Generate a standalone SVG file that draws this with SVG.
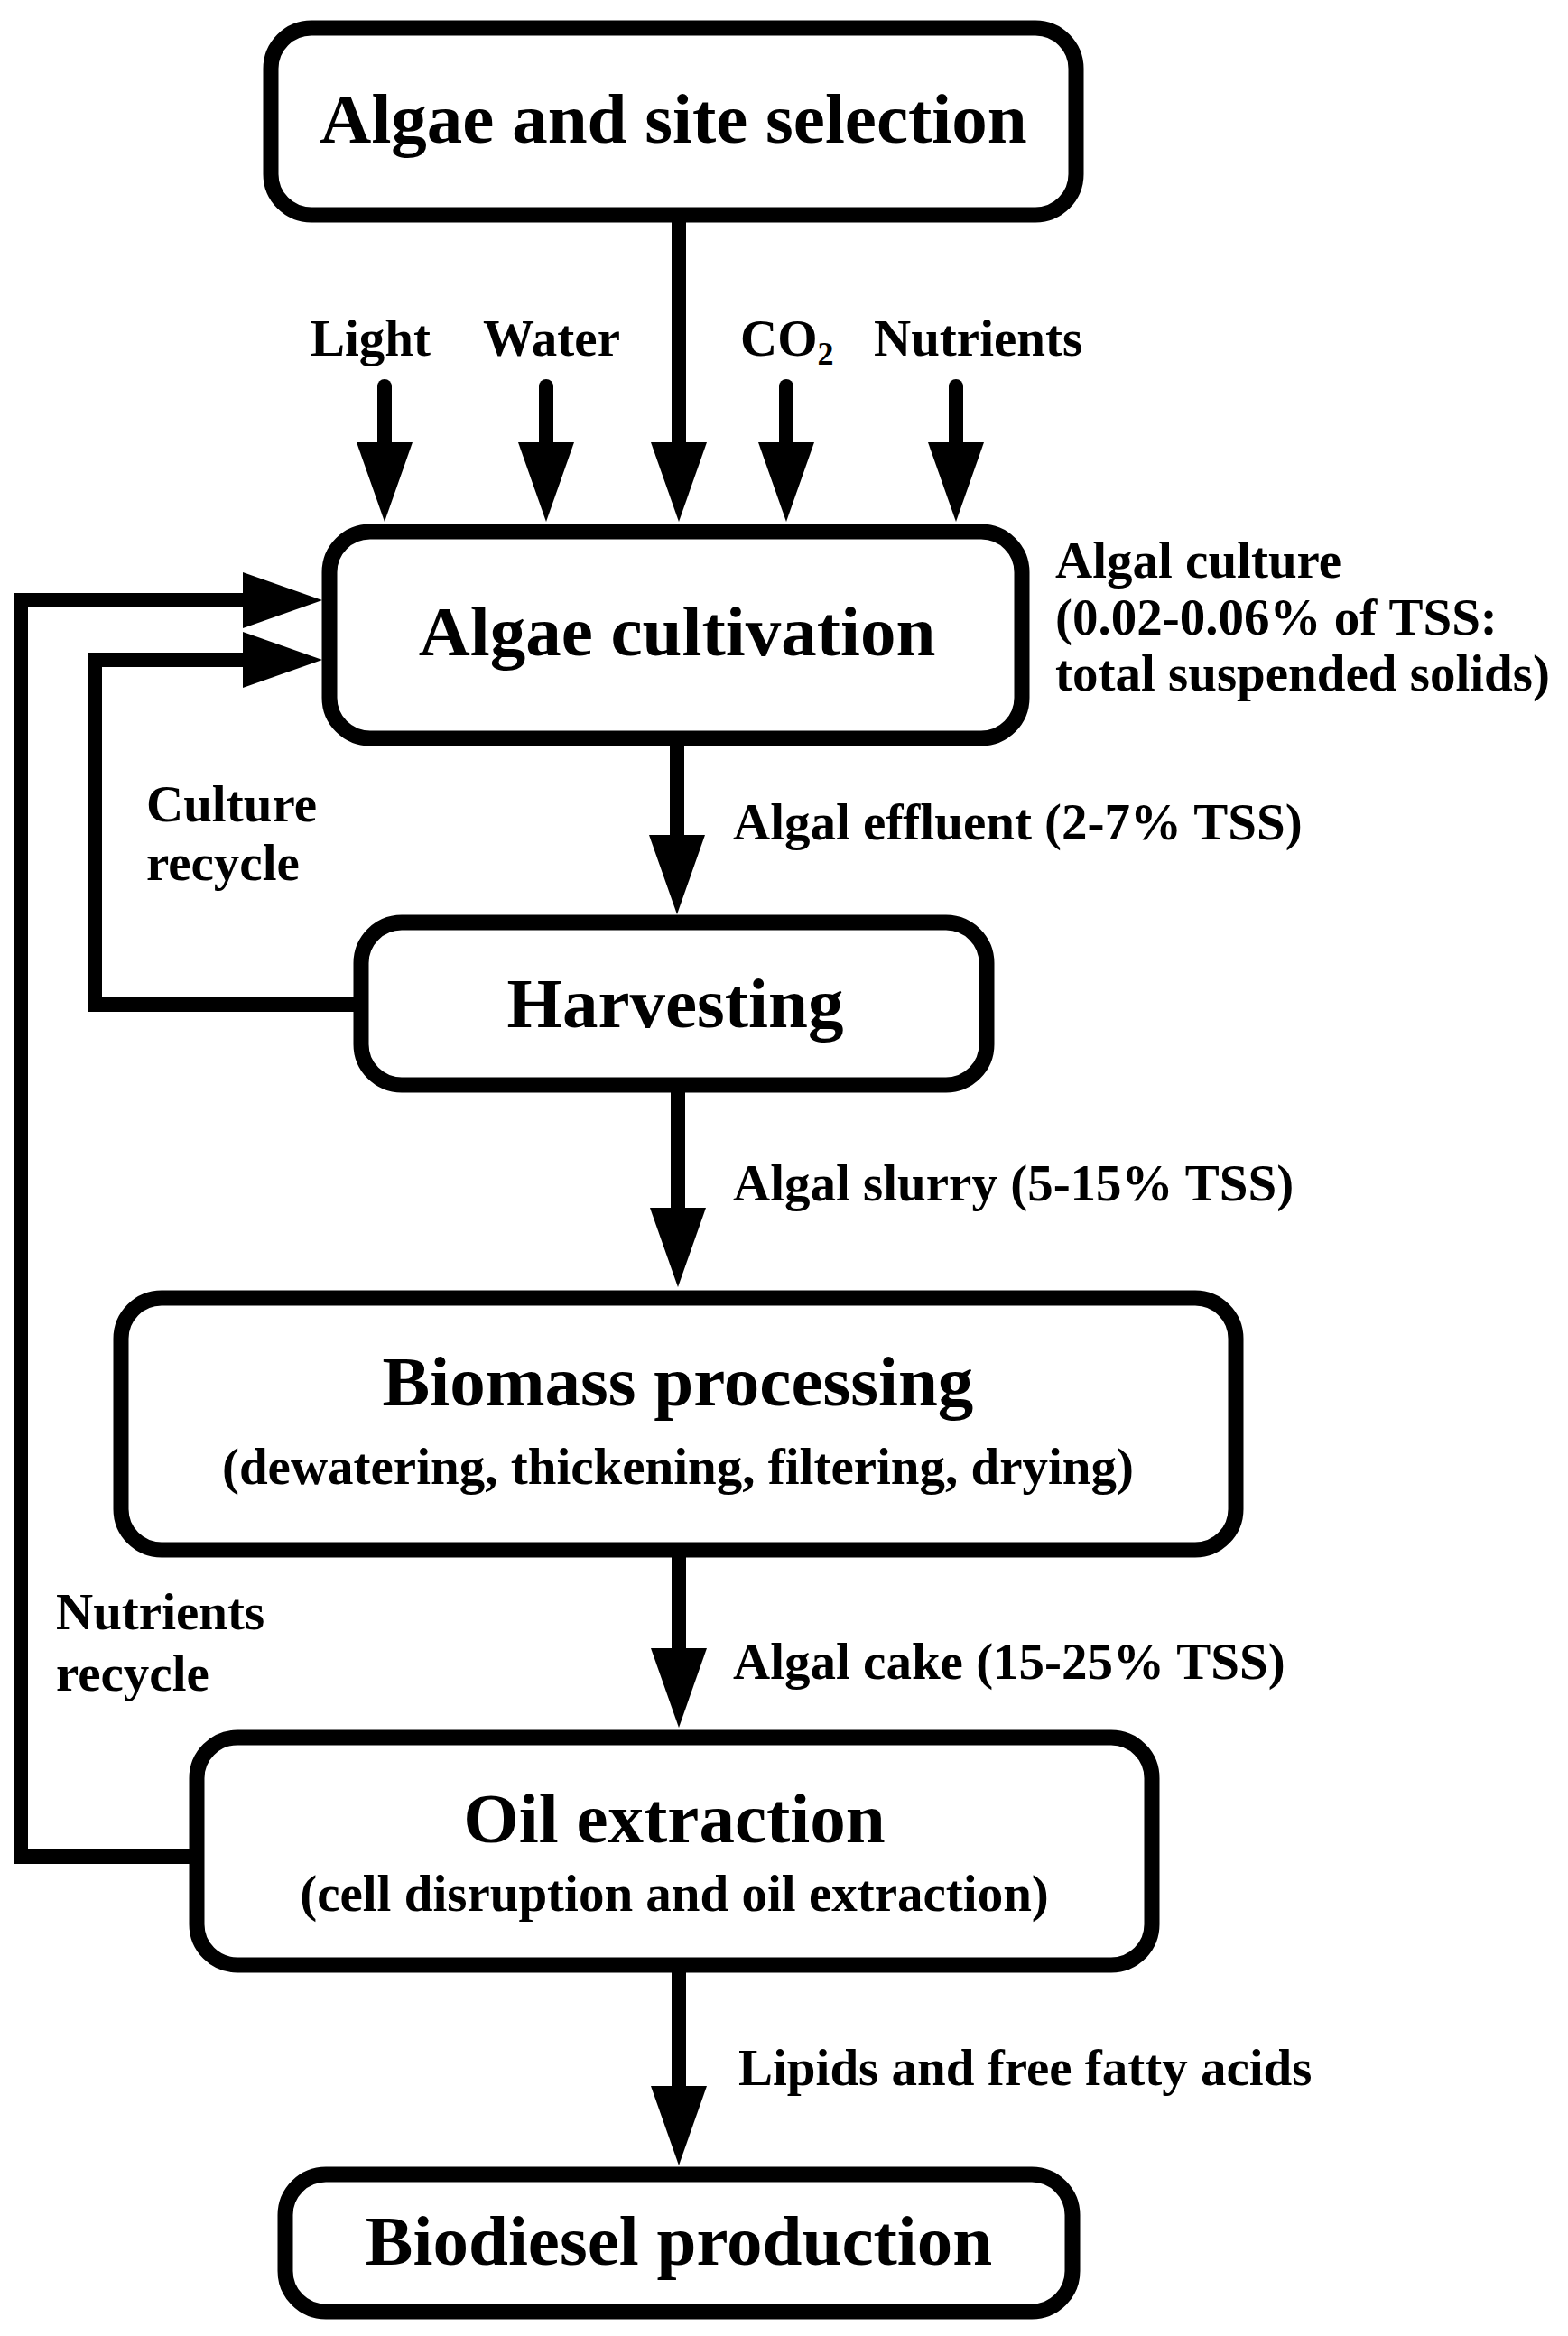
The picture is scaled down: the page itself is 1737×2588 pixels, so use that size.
<svg xmlns="http://www.w3.org/2000/svg" width="1737" height="2588" viewBox="0 0 1737 2588">
<style>
.box{fill:#fff;stroke:#000;stroke-width:17}
.t{font-family:"Liberation Serif","Times New Roman",serif;font-weight:bold;fill:#000}
.title{font-size:79px;text-anchor:middle}
.sub{font-size:57px;text-anchor:middle}
.lbl{font-size:57px}
.ln{stroke:#000;stroke-width:16;fill:none;stroke-linejoin:miter}
.in{stroke:#000;stroke-width:16;fill:none;stroke-linecap:round}
</style>
<defs>
<marker id="ah" markerUnits="userSpaceOnUse" markerWidth="90" markerHeight="64" refX="48" refY="31" orient="auto">
<path d="M0,0 L88,31 L0,62 z" fill="#000"/>
</marker>
</defs>
<rect width="1737" height="2588" fill="#fff"/>
<g id="connectors">
<line class="in" x1="426" y1="428" x2="426" y2="538" marker-end="url(#ah)"/>
<line class="in" x1="605" y1="428" x2="605" y2="538" marker-end="url(#ah)"/>
<line class="ln" x1="752" y1="240" x2="752" y2="538" marker-end="url(#ah)"/>
<line class="in" x1="871" y1="428" x2="871" y2="538" marker-end="url(#ah)"/>
<line class="in" x1="1059" y1="428" x2="1059" y2="538" marker-end="url(#ah)"/>
<line class="ln" x1="750" y1="820" x2="750" y2="973" marker-end="url(#ah)"/>
<line class="ln" x1="751" y1="1205" x2="751" y2="1386" marker-end="url(#ah)"/>
<line class="ln" x1="752" y1="1720" x2="752" y2="1874" marker-end="url(#ah)"/>
<line class="ln" x1="752" y1="2180" x2="752" y2="2359" marker-end="url(#ah)"/>
<polyline class="ln" points="218,2057 23,2057 23,665 317,665" marker-end="url(#ah)"/>
<polyline class="ln" points="400,1113 105,1113 105,731 317,731" marker-end="url(#ah)"/>
</g>
<g id="n-site">
<rect class="box" x="300" y="31" width="892" height="207" rx="45"/>
<text class="t title" x="746" y="158">Algae and site selection</text>
</g>
<g id="inputs">
<text class="t lbl" x="344" y="394">Light</text>
<text class="t lbl" x="535" y="394">Water</text>
<text class="t lbl" x="820" y="394">CO<tspan font-size="36" dy="10">2</tspan></text>
<text class="t lbl" x="968" y="394">Nutrients</text>
</g>
<g id="n-cultivation">
<rect class="box" x="365" y="589" width="767" height="229" rx="45"/>
<text class="t title" x="750" y="726">Algae cultivation</text>
</g>
<g id="l-culture">
<text class="t lbl" x="1169" y="640">Algal culture</text>
<text class="t lbl" x="1169" y="703">(0.02-0.06% of TSS:</text>
<text class="t lbl" x="1169" y="765">total suspended solids)</text>
</g>
<g id="n-harvesting">
<rect class="box" x="400" y="1022" width="693" height="180" rx="45"/>
<text class="t title" x="748" y="1138">Harvesting</text>
</g>
<g id="n-biomass">
<rect class="box" x="134" y="1438" width="1235" height="279" rx="45"/>
<text class="t title" x="751" y="1557">Biomass processing</text>
<text class="t sub" x="751" y="1644">(dewatering, thickening, filtering, drying)</text>
</g>
<g id="n-oil">
<rect class="box" x="218" y="1925" width="1058" height="252" rx="45"/>
<text class="t title" x="747" y="2041">Oil extraction</text>
<text class="t sub" x="747" y="2117">(cell disruption and oil extraction)</text>
</g>
<g id="n-biodiesel">
<rect class="box" x="316" y="2409" width="872" height="152" rx="45"/>
<text class="t title" x="752" y="2509">Biodiesel production</text>
</g>
<g id="labels">
<text class="t lbl" x="812" y="930">Algal effluent (2-7% TSS)</text>
<text class="t lbl" x="162" y="910">Culture</text>
<text class="t lbl" x="162" y="975">recycle</text>
<text class="t lbl" x="812" y="1330">Algal slurry (5-15% TSS)</text>
<text class="t lbl" x="812" y="1860">Algal cake (15-25% TSS)</text>
<text class="t lbl" x="62" y="1805">Nutrients</text>
<text class="t lbl" x="62" y="1873">recycle</text>
<text class="t lbl" x="818" y="2310">Lipids and free fatty acids</text>
</g>
</svg>
